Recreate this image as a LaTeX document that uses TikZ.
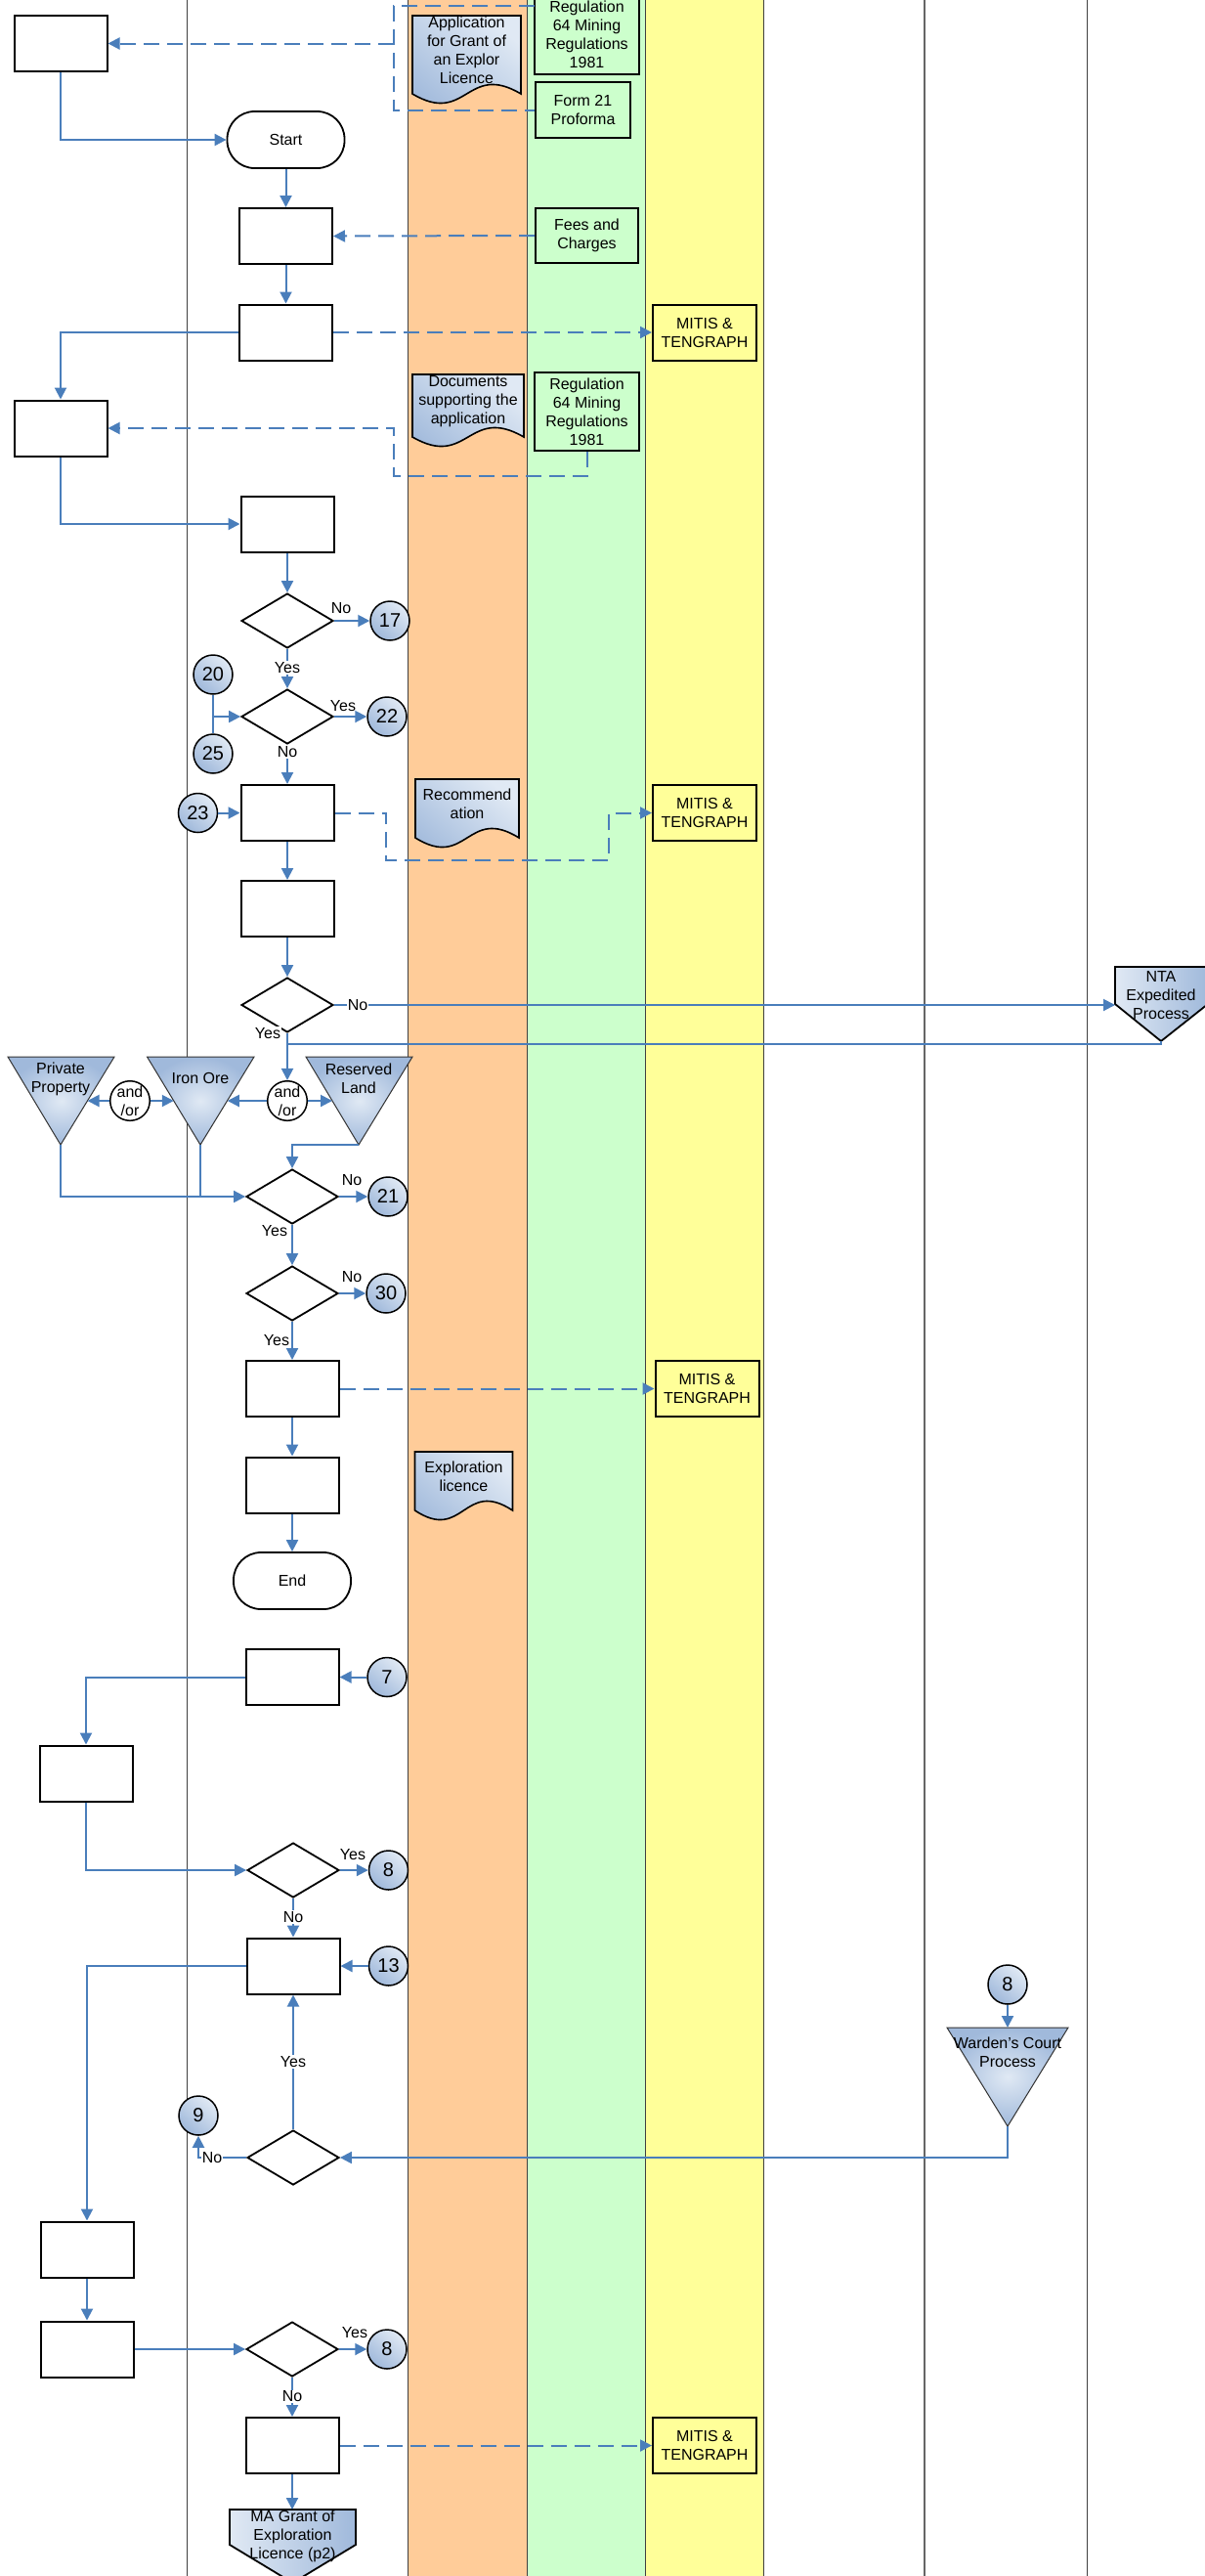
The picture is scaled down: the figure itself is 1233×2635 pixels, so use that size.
\documentclass[tikz,border=0pt]{standalone}
\usepackage{fontspec}
\setmainfont{Liberation Sans}
\usetikzlibrary{arrows.meta,shapes.geometric,calc}
\definecolor{bl}{RGB}{74,126,187}
\definecolor{lorange}{RGB}{255,204,153}
\definecolor{lgreen}{RGB}{204,255,204}
\definecolor{lyellow}{RGB}{255,255,153}
\definecolor{shL}{RGB}{224,233,244}
\definecolor{shD}{RGB}{160,185,219}
\begin{document}
\begin{tikzpicture}[x=1pt,y=-1pt,
  font=\fontsize{16}{19}\selectfont,
  box/.style={draw=black,line width=2pt,fill=white,minimum width=95pt,minimum height=57pt,inner sep=0pt},
  gbox/.style={draw=black,line width=2pt,fill=lgreen,inner sep=0pt,align=center},
  ybox/.style={draw=black,line width=2pt,fill=lyellow,inner sep=0pt,align=center,minimum width=106pt,minimum height=57pt},
  dia/.style={diamond,draw=black,line width=1.8pt,fill=white,minimum width=94pt,minimum height=56pt,inner sep=0pt},
  term/.style={draw=black,line width=1.8pt,fill=white,rounded corners=28pt,minimum width=120pt,minimum height=58pt,inner sep=0pt},
  circ/.style={circle,draw=black,line width=1.5pt,minimum size=40pt,inner sep=0pt,top color=shL,bottom color=shD,shading angle=-40,font=\fontsize{20}{22}\selectfont},
  aocirc/.style={circle,draw=black,line width=1.5pt,fill=white,minimum size=40pt,inner sep=0pt,align=center},
  docfill/.style={draw=black,line width=1.6pt,top color=shL,bottom color=shD,shading angle=-40},
  ofp/.style={draw=black,line width=1.8pt,left color=shL,right color=shD},
  tri/.style={draw=black!80,line width=1pt,inner color=shL,outer color=shD},
  txt/.style={inner sep=0pt,align=center},
  lbl/.style={inner sep=1pt,fill=white},
  lblt/.style={inner sep=0pt},
  conn/.style={draw=bl,line width=2pt,-{Triangle[length=12pt,width=12pt]}},
  plain/.style={draw=bl,line width=2pt},
  dashc/.style={draw=bl,line width=2pt,dash pattern=on 16pt off 8pt,-{Triangle[length=12pt,width=12pt]}},
  dashp/.style={draw=bl,line width=2pt,dash pattern=on 16pt off 8pt},
  lane/.style={draw=black!75,line width=0.9pt}
]
\useasboundingbox (0,0) rectangle (1233,2635);
% lanes
\fill[lorange] (417,0) rectangle (539,2635);
\fill[lgreen] (539,0) rectangle (660,2635);
\fill[lyellow] (660,0) rectangle (781,2635);
\foreach \x in {191,417,539,660,781,1112} \draw[lane] (\x,0) -- (\x,2635);
\draw[lane,black!60,line width=1.3pt] (946,0) -- (946,2635);

% process boxes
\node[box] (b1) at (62,44.5) {};
\node[term] (start) at (292.5,143) {Start};
\node[box] (b2) at (292.5,241.5) {};
\node[box] (b3) at (292.5,340) {};
\node[box] (b4) at (62,438) {};
\node[box] (b5) at (294,536) {};
\node[dia] (d1) at (294,635) {};
\node[dia] (d2) at (294,733) {};
\node[box] (b6) at (294,831.5) {};
\node[box] (b7) at (294,929.5) {};
\node[dia] (d3) at (294,1028) {};
\node[dia] (d4) at (299,1224) {};
\node[dia] (d5) at (299,1323) {};
\node[box] (b8) at (299,1420.5) {};
\node[box] (b9) at (299,1519) {};
\node[term] (endn) at (299,1617) {End};
\node[box] (b10) at (299,1715.5) {};
\node[box] (b11) at (88,1814) {};
\node[dia] (d6) at (300,1913) {};
\node[box] (b12) at (300,2011) {};
\node[dia] (d7) at (300,2207) {};
\node[box] (b13) at (89,2301) {};
\node[box] (b14) at (89,2403) {};
\node[dia] (d8) at (299,2403) {};
\node[box] (b15) at (299,2501.5) {};

% green boxes
\node[gbox,minimum width=107pt,minimum height=81pt] (reg1) at (600.5,35.5) {Regulation\\64 Mining\\Regulations\\1981};
\node[gbox,minimum width=97pt,minimum height=57pt] (form) at (596.5,112.5) {Form 21\\Proforma};
\node[gbox,minimum width=105pt,minimum height=56pt] (fees) at (600.5,241) {Fees and\\Charges};
\node[gbox,minimum width=107pt,minimum height=80pt] (reg2) at (600.5,421) {Regulation\\64 Mining\\Regulations\\1981};

% MITIS boxes
\node[ybox] (m1) at (721,340) {MITIS \&\\TENGRAPH};
\node[ybox] (m2) at (721,831.5) {MITIS \&\\TENGRAPH};
\node[ybox] (m3) at (723.5,1420.5) {MITIS \&\\TENGRAPH};
\node[ybox] (m4) at (721,2501.5) {MITIS \&\\TENGRAPH};

% documents
\draw[docfill] (422,16) -- (533,16) -- (533,96) .. controls (477.5,63) and (477.5,129) .. (422,96) -- cycle;
\node[txt] (appt) at (477.5,51) {Application\\for Grant of\\an Explor\\Licence};
\draw[docfill] (422,383) -- (536,383) -- (536,447) .. controls (479,414) and (479,480) .. (422,447) -- cycle;
\node[txt] (doct) at (479,411) {Documents\\supporting the\\application};
\draw[docfill] (425,797) -- (531,797) -- (531,857) .. controls (478,824) and (478,890) .. (425,857) -- cycle;
\node[txt] (rect) at (478,822) {Recommend\\ation};
\draw[docfill] (424.5,1485) -- (524.5,1485) -- (524.5,1545) .. controls (474.5,1512) and (474.5,1578) .. (424.5,1545) -- cycle;
\node[txt] (expt) at (474.5,1510) {Exploration\\licence};

% connector circles
\node[circ] (c17) at (399,635) {17};
\node[circ] (c22) at (396,733) {22};
\node[circ] (c20) at (218,690) {20};
\node[circ] (c25) at (218,771) {25};
\node[circ] (c23) at (202.5,831.5) {23};
\node[circ] (c21) at (397,1224) {21};
\node[circ] (c30) at (395,1323) {30};
\node[circ] (c7) at (396,1715.5) {7};
\node[circ] (c8a) at (397.5,1913) {8};
\node[circ] (c13) at (397.5,2011) {13};
\node[circ] (c9) at (203,2164) {9};
\node[circ] (c8b) at (1031,2030) {8};
\node[circ] (c8c) at (396,2403) {8};

% triangles
\draw[tri] (8,1081) -- (117,1081) -- (62,1171) -- cycle;
\node[txt] (ppt) at (62,1103.5) {Private\\Property};
\draw[tri] (150.5,1081) -- (260,1081) -- (205,1171) -- cycle;
\node[txt] (iot) at (205,1103) {Iron Ore};
\draw[tri] (313,1081) -- (422,1081) -- (367,1171) -- cycle;
\node[txt] (rlt) at (367,1103.5) {Reserved\\Land};
\coordinate (ppA) at (62,1171);
\coordinate (ppR) at (89.5,1126);
\coordinate (ioA) at (205,1171);
\coordinate (ioL) at (177.75,1126);
\coordinate (ioR) at (232.75,1126);
\coordinate (rlA) at (367,1171);
\coordinate (rlL) at (340,1126);
\node[aocirc] (ao1) at (133,1126) {and\\/or};
\node[aocirc] (ao2) at (294,1126) {and\\/or};

% NTA off-page
\draw[ofp] (1141,989) -- (1236,989) -- (1236,1027) -- (1188,1065) -- (1141,1027) -- cycle;
\node[txt] (ntat) at (1188,1018) {NTA\\Expedited\\Process};
\coordinate (ntaL) at (1141,1028);
\coordinate (ntaA) at (1188,1065);

% Warden's court
\draw[tri] (969,2074) -- (1093,2074) -- (1031,2175) -- cycle;
\node[txt] (wct) at (1031,2099.5) {Warden’s Court\\Process};
\coordinate (wcT) at (1031,2074);
\coordinate (wcA) at (1031,2175);

% MA grant off-page
\draw[ofp] (235,2567) -- (364,2567) -- (364,2603) -- (299.5,2642) -- (235,2603) -- cycle;
\node[txt] (mat) at (299.5,2594) {MA Grant of\\Exploration\\Licence (p2)};
\coordinate (maT) at (299,2567);

% dashed connectors
\coordinate (r1a) at (547,6);
\coordinate (k1) at (403,44.5);
\draw[dashp] (r1a) -| (k1) |- (form.west);
\draw[dashc] (k1) -- (b1.east);
\coordinate (k2) at (403,487);
\draw[dashc] (reg2.south) |- (k2) |- (b4.east);
\draw[dashc] (fees.west) -- (b2.east);
\draw[dashc] (b3.east) -- (m1.west);
\coordinate (k3) at (395,880);
\coordinate (k4) at (623,880);
\draw[dashc] (b6.east) -| (k3) -- (k4) |- (m2.west);
\draw[dashc] (b8.east) -- (m3.west);
\draw[dashc] (b15.east) -- (m4.west);

% solid connectors
\draw[conn] (b1.south) |- (start.west);
\draw[conn] (start) -- (b2);
\draw[conn] (b2) -- (b3);
\draw[conn] (b3.west) -| (b4.north);
\draw[conn] (b4.south) |- (b5.west);
\draw[conn] (b5) -- (d1);
\draw[conn] (d1.east) -- (c17);
\draw[conn] (d1) -- (d2);
\draw[plain] (c20) -- (c25);
\coordinate (k5) at (218,733);
\draw[conn] (k5) -- (d2.west);
\draw[conn] (d2.east) -- (c22);
\draw[conn] (d2) -- (b6);
\draw[conn] (c23) -- (b6);
\draw[conn] (b6) -- (b7);
\draw[conn] (b7) -- (d3);
\draw[conn] (d3.east) -- (ntaL);
\draw[conn] (d3) -- (ao2);
\coordinate (k6) at (294,1068);
\draw[plain] (ntaA) |- (k6);
\draw[conn] (ao1) -- (ppR);
\draw[conn] (ao1) -- (ioL);
\draw[conn] (ao2) -- (ioR);
\draw[conn] (ao2) -- (rlL);
\draw[conn] (ppA) |- (d4.west);
\draw[plain] (ioA) -- (ioA |- d4.west);
\draw[conn] (rlA) -| (d4.north);
\draw[conn] (d4.east) -- (c21);
\draw[conn] (d4) -- (d5);
\draw[conn] (d5.east) -- (c30);
\draw[conn] (d5) -- (b8);
\draw[conn] (b8) -- (b9);
\draw[conn] (b9) -- (endn);
\draw[conn] (c7) -- (b10);
\draw[conn] (b10.west) -| (b11.north);
\draw[conn] (b11.south) |- (d6.west);
\draw[conn] (d6.east) -- (c8a);
\draw[conn] (d6) -- (b12);
\draw[conn] (c13) -- (b12);
\draw[conn] (b12.west) -| (b13.north);
\draw[conn] (d7) -- (b12);
\draw[conn] (d7.west) -| (c9.south);
\draw[conn] (c8b) -- (wcT);
\draw[conn] (wcA) |- (d7.east);
\draw[conn] (b13) -- (b14);
\draw[conn] (b14) -- (d8);
\draw[conn] (d8.east) -- (c8c);
\draw[conn] (d8) -- (b15);
\draw[conn] (b15) -- (maT);

% labels
\node[lblt] (l1) at (349,622) {No};
\node[lbl] (l2) at (294,683) {Yes};
\node[lblt] (l3) at (351,722) {Yes};
\node[lbl] (l4) at (294,769) {No};
\node[lbl] (l5) at (366,1028) {No};
\node[lbl] (l6) at (274,1057) {Yes};
\node[lblt] (l7) at (360,1207) {No};
\node[lblt] (l8) at (281,1259) {Yes};
\node[lblt] (l9) at (360,1306) {No};
\node[lblt] (l10) at (283,1371) {Yes};
\node[lblt] (l11) at (361,1897) {Yes};
\node[lbl] (l12) at (300,1961) {No};
\node[lbl] (l13) at (300,2109) {Yes};
\node[lbl] (l14) at (217,2207) {No};
\node[lblt] (l15) at (363,2386) {Yes};
\node[lbl] (l16) at (299,2451.5) {No};
\end{tikzpicture}
\end{document}
